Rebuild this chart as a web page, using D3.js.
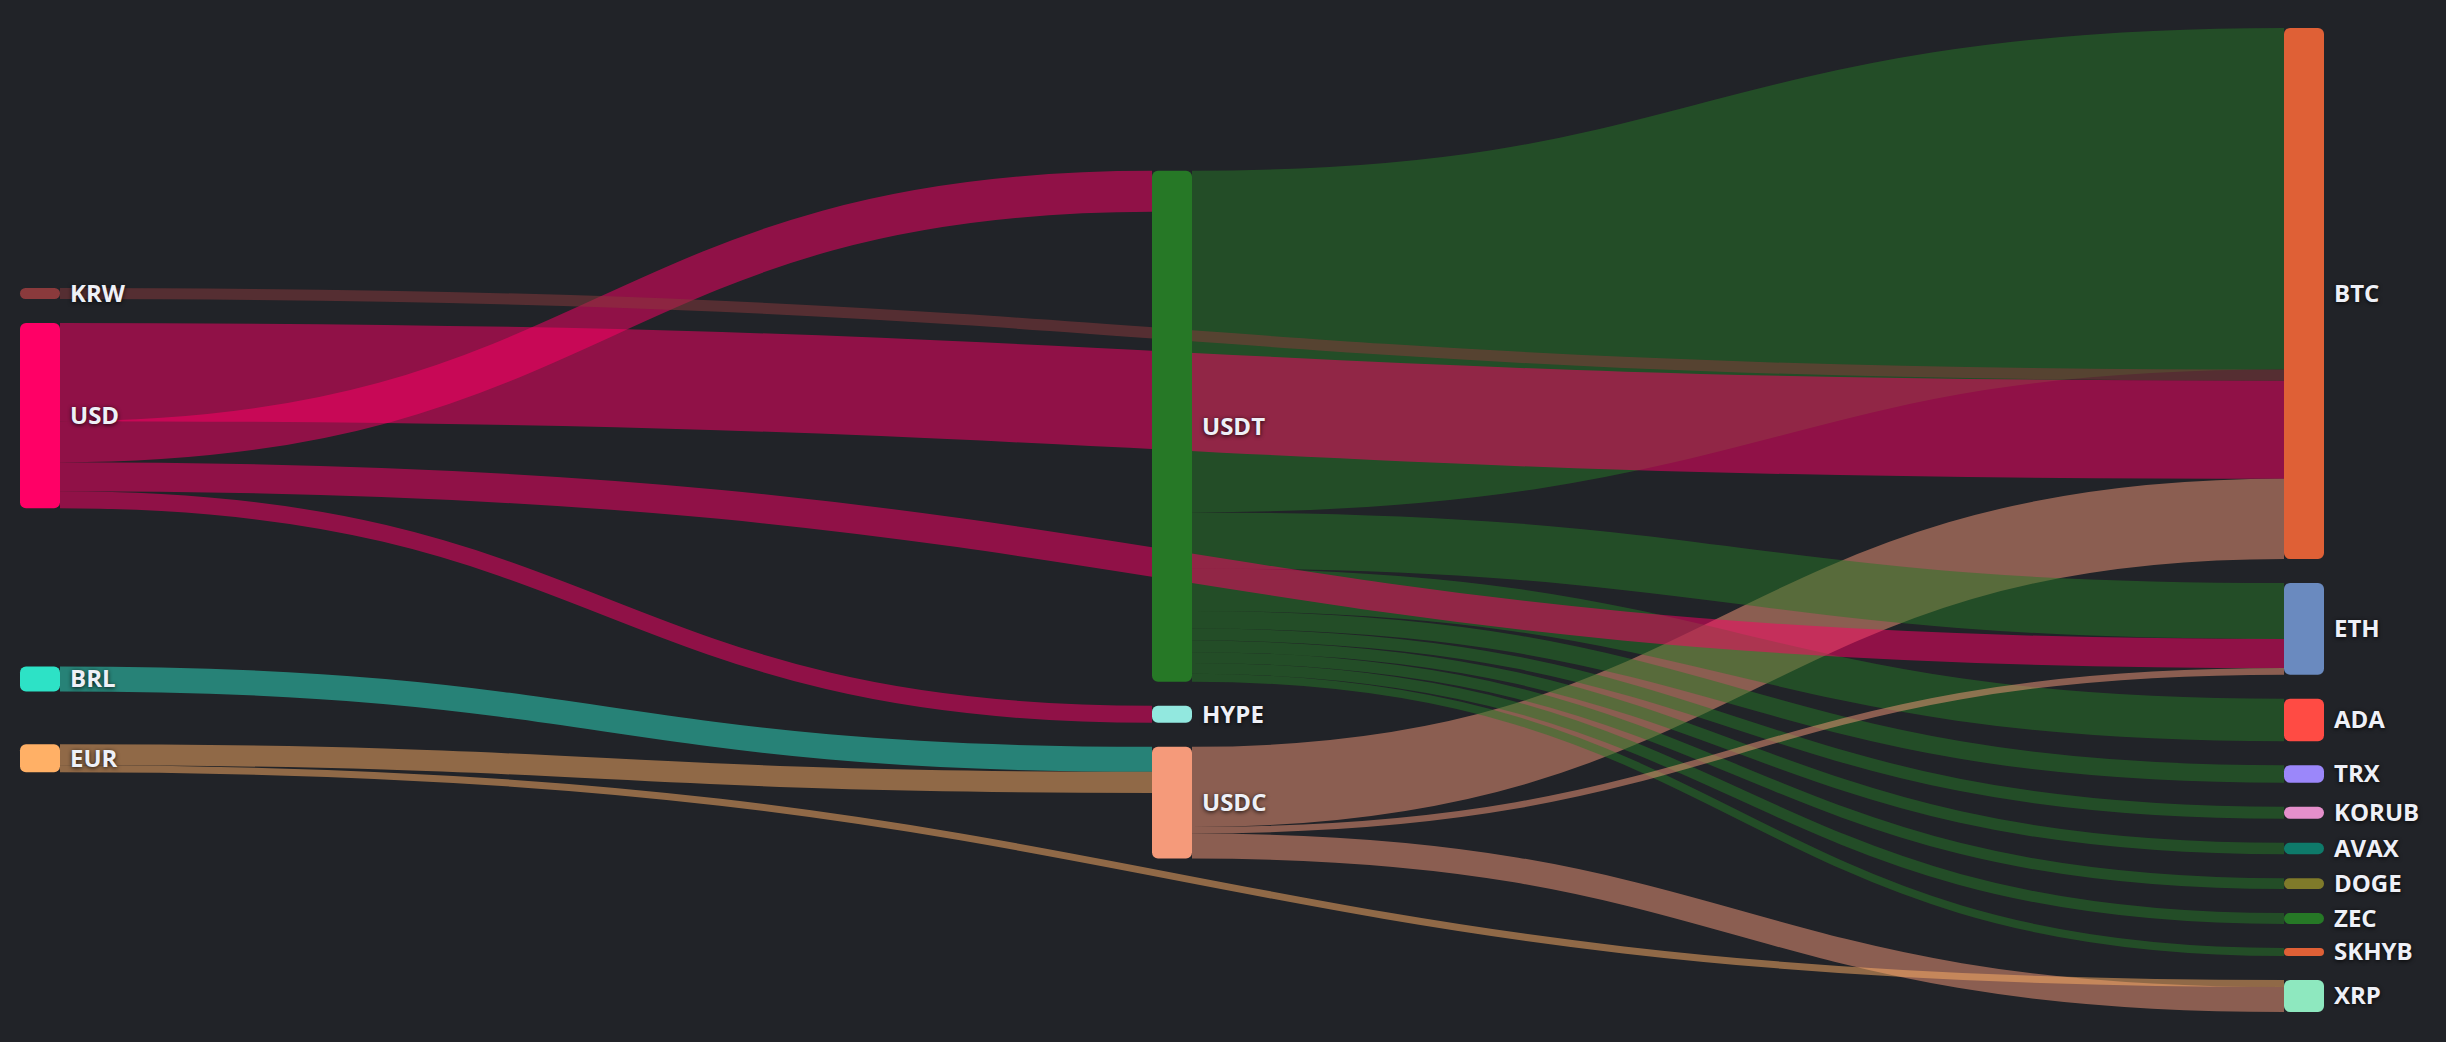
<!DOCTYPE html>
<html>
<head>
<meta charset="utf-8">
<script src="https://cdn.jsdelivr.net/npm/d3@7"></script>
<style>
  html, body { margin: 0; padding: 0; background: #212328; }
  #chart svg { display: block; }
  .node-label {
    font-family: "Open Sans", "Noto Sans", sans-serif;
    font-weight: 700;
    font-size: 24px;
    fill: #eef0f7;
    text-shadow: 0 1px 4px rgba(0, 0, 0, 0.85);
  }
</style>
</head>
<body>
<div id="chart"></div>
<script>
// 0. Size of the picture and of the sankey area
const width = 2446;
const height = 1042;
const extent = { x0: 20, y0: 28, x1: 2324, y1: 1012 };
const nodeWidth = 40;
const nodePadding = 24;
const iterations = 100;

// Nodes: fiat on the left, stablecoins in the middle, assets on the right
const nodeNames = [
  "KRW", "USD", "BRL", "EUR",
  "USDT", "HYPE", "USDC",
  "BTC", "ETH", "ADA", "TRX", "KORUB", "AVAX", "DOGE", "ZEC", "SKHYB", "XRP",
];
const nodeColors = [
  "#8a3a3c", "#ff0066", "#2de2c6", "#ffb066",
  "#267826", "#92e8df", "#f59a7a",
  "#df6036", "#6a8abf", "#ff4b44", "#9b87fa", "#e58fcb", "#0e7a6a", "#7f7a2a", "#267826", "#df6036", "#8ee8bf",
];

// Flows (biggest first, that is also the drawing order)
const linkSources = [
  "USDT", "USD", "USDC", "USDT", "USDT", "USD", "USD", "BRL", "USDC", "EUR",
  "USDT", "USD", "USDT", "KRW", "USDT", "USDT", "USDT", "USDT", "EUR", "USDC",
];
const linkTargets = [
  "BTC", "BTC", "BTC", "ETH", "ADA", "USDT", "ETH", "USDC", "XRP", "USDC",
  "TRX", "HYPE", "KORUB", "BTC", "AVAX", "DOGE", "ZEC", "SKHYB", "XRP", "ETH",
];
const linkValues = [
  341, 98, 80, 56, 42.5, 41, 29, 25, 25, 21,
  17.5, 17, 12, 11, 11.5, 10.8, 10.8, 8, 7, 6.5,
];

// 1. Build the graph
const nodes = nodeNames.map((name, i) => ({ name, color: nodeColors[i] }));
const nodeByName = new Map(nodes.map((d) => [d.name, d]));
const links = linkValues.map((value, i) => ({
  source: nodeByName.get(linkSources[i]),
  target: nodeByName.get(linkTargets[i]),
  value,
}));

// 2. Sankey layout (left aligned, relaxation like the classic d3-sankey)
function sankeyLayout(nodes, links) {
  nodes.forEach((n) => {
    n.sourceLinks = [];
    n.targetLinks = [];
  });
  links.forEach((l) => {
    l.source.sourceLinks.push(l);
    l.target.targetLinks.push(l);
  });
  nodes.forEach((n) => {
    n.value = Math.max(
      d3.sum(n.sourceLinks, (l) => l.value),
      d3.sum(n.targetLinks, (l) => l.value)
    );
  });

  // depths
  let current = nodes.slice();
  let depth = 0;
  while (current.length) {
    const next = [];
    current.forEach((n) => {
      n.depth = depth;
      n.sourceLinks.forEach((l) => {
        if (next.indexOf(l.target) < 0) next.push(l.target);
      });
    });
    current = next;
    depth++;
  }

  const x = d3
    .scaleLinear()
    .domain([0, depth - 1])
    .range([extent.x0, extent.x1 - nodeWidth]);
  nodes.forEach((n) => {
    n.x0 = x(n.depth);
    n.x1 = n.x0 + nodeWidth;
  });

  const columns = d3
    .groups(nodes, (n) => n.depth)
    .sort((a, b) => a[0] - b[0])
    .map((d) => d[1]);

  const ky = d3.min(
    columns,
    (c) =>
      (extent.y1 - extent.y0 - (c.length - 1) * nodePadding) /
      d3.sum(c, (n) => n.value)
  );
  const y = d3.scaleLinear().domain([0, 1]).range([0, ky]);

  columns.forEach((c) =>
    c.forEach((n, i) => {
      n.y0 = i;
      n.y1 = i + y(n.value);
    })
  );
  links.forEach((l) => (l.width = y(l.value)));

  const center = (n) => (n.y0 + n.y1) / 2;

  function resolveCollisions() {
    columns.forEach((col) => {
      col.sort((a, b) => a.y0 - b.y0);
      let yy = extent.y0;
      let node;
      for (let i = 0; i < col.length; i++) {
        node = col[i];
        const dy = yy - node.y0;
        if (dy > 0) {
          node.y0 += dy;
          node.y1 += dy;
        }
        yy = node.y1 + nodePadding;
      }
      let dy = yy - nodePadding - extent.y1;
      if (dy > 0) {
        node.y0 -= dy;
        node.y1 -= dy;
        yy = node.y0;
        for (let i = col.length - 2; i >= 0; i--) {
          node = col[i];
          dy = node.y1 + nodePadding - yy;
          if (dy > 0) {
            node.y0 -= dy;
            node.y1 -= dy;
          }
          yy = node.y0;
        }
      }
    });
  }

  function relaxLeftToRight(alpha) {
    columns.forEach((col) =>
      col.forEach((n) => {
        if (!n.targetLinks.length) return;
        const c =
          d3.sum(n.targetLinks, (l) => center(l.source) * l.value) /
          d3.sum(n.targetLinks, (l) => l.value);
        const dy = (c - center(n)) * alpha;
        n.y0 += dy;
        n.y1 += dy;
      })
    );
  }

  function relaxRightToLeft(alpha) {
    columns
      .slice()
      .reverse()
      .forEach((col) =>
        col.forEach((n) => {
          if (!n.sourceLinks.length) return;
          const c =
            d3.sum(n.sourceLinks, (l) => center(l.target) * l.value) /
            d3.sum(n.sourceLinks, (l) => l.value);
          const dy = (c - center(n)) * alpha;
          n.y0 += dy;
          n.y1 += dy;
        })
      );
  }

  resolveCollisions();
  for (let alpha = 1, k = iterations; k > 0; --k) {
    relaxRightToLeft((alpha *= 0.99));
    resolveCollisions();
    relaxLeftToRight(alpha);
    resolveCollisions();
  }

  // link breadths
  nodes.forEach((n) => {
    n.sourceLinks.sort((a, b) => a.target.y0 - b.target.y0);
    n.targetLinks.sort((a, b) => a.source.y0 - b.source.y0);
  });
  nodes.forEach((n) => {
    let y0 = n.y0;
    let y1 = n.y0;
    n.sourceLinks.forEach((l) => {
      l.y0 = y0 + l.width / 2;
      y0 += l.width;
    });
    n.targetLinks.forEach((l) => {
      l.y1 = y1 + l.width / 2;
      y1 += l.width;
    });
  });
}

sankeyLayout(nodes, links);

// 3. Draw
const svg = d3
  .select("#chart")
  .append("svg")
  .attr("width", width)
  .attr("height", height)
  .style("background", "#212328");

const linkPath = d3
  .linkHorizontal()
  .source((d) => [d.source.x1, d.y0])
  .target((d) => [d.target.x0, d.y1]);

// links, coloured by their source
svg
  .append("g")
  .attr("fill", "none")
  .selectAll("path")
  .data(links)
  .enter()
  .append("path")
  .attr("d", linkPath)
  .attr("stroke", (d) => d.source.color)
  .attr("stroke-opacity", 0.5)
  .attr("stroke-width", (d) => Math.max(1, d.width));

// nodes
svg
  .append("g")
  .selectAll("rect")
  .data(nodes)
  .enter()
  .append("rect")
  .attr("x", (d) => d.x0)
  .attr("y", (d) => d.y0)
  .attr("width", (d) => d.x1 - d.x0)
  .attr("height", (d) => Math.max(1, d.y1 - d.y0))
  .attr("rx", (d) => Math.min(6, (d.y1 - d.y0) / 2))
  .attr("fill", (d) => d.color);

// labels, always on the right of the node
svg
  .append("g")
  .selectAll("text")
  .data(nodes)
  .enter()
  .append("text")
  .attr("class", "node-label")
  .attr("x", (d) => d.x1 + 10)
  .attr("y", (d) => (d.y0 + d.y1) / 2)
  .attr("dy", "0.35em")
  .text((d) => d.name);
</script>
</body>
</html>
